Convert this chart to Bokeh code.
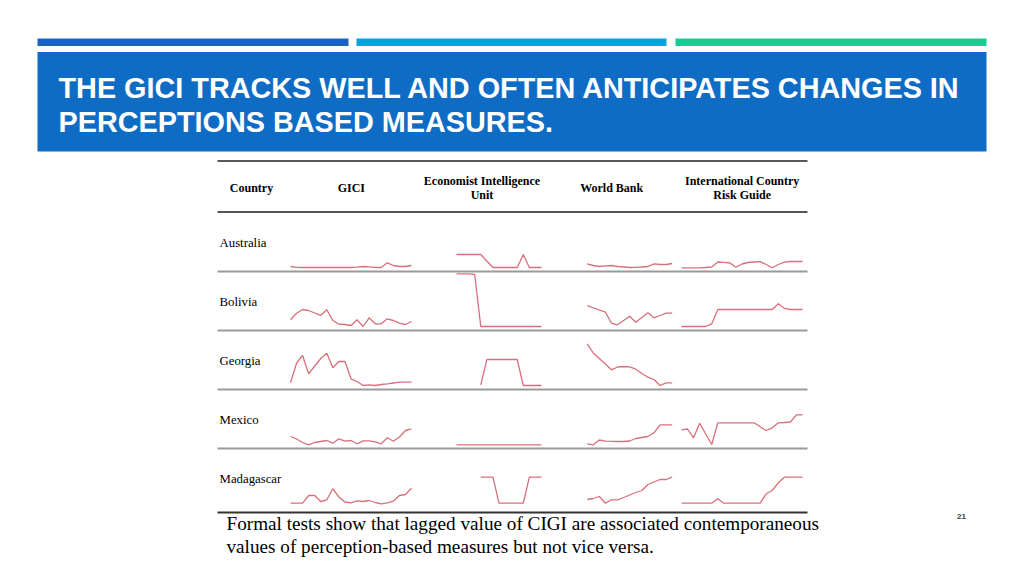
from bokeh.plotting import figure
from bokeh.models import Range1d
from bokeh.embed import file_html
from bokeh.resources import INLINE
from bokeh.core.properties import value
import numpy as np

# ---------------- data ----------------
title_lines = ["THE GICI TRACKS WELL AND OFTEN ANTICIPATES CHANGES IN",
               "PERCEPTIONS BASED MEASURES."]
header_cells = ["Country", "GICI", "Economist Intelligence\nUnit", "World Bank",
                "International Country\nRisk Guide"]
countries = ["Australia", "Bolivia", "Georgia", "Mexico", "Madagascar"]
footnote = ["Formal tests show that lagged value of CIGI are associated contemporaneous",
            "values of perception-based measures but not vice versa."]
page_number = "21"

# sparkline series (score units, one list per country; None = no data)
gici = [
    [5, 4.2, 4, 4, 4, 4, 4, 4, 4, 4, 4, 4.4, 5, 4.6, 4.2, 4, 8.7, 6, 5, 5, 6],
    [10.7, 17.3, 21, 20, 17.5, 15.2, 20.7, 10, 6.3, 6, 5, 10.7, 4, 12.7, 6.7, 6.7, 11.7, 10, 7.3, 6, 9],
    [6.7, 26.3, 34, 15.7, 23.5, 31, 36.3, 21.7, 28, 28, 10.7, 8, 4, 4.7, 4, 5, 5.7, 6.5, 7.3, 7.3, 7.3],
    [12, 9.5, 6, 3.7, 6, 7, 8, 5.3, 9.7, 7.3, 8, 4.7, 7.7, 7.7, 6.7, 4.7, 10.7, 7.3, 11.5, 18, 19.7],
    [9.3, 9.3, 9.3, 17, 17, 11, 12.7, 23.7, 15.5, 10.5, 9.7, 11.7, 11, 12, 10, 8.7, 9.7, 11.3, 17, 18, 24.3],
]
eiu = [
    [17, 17, 17, 17, 17, 10.5, 4, 4, 4, 4, 4, 17, 4, 4, 4],
    [56.7, 56.7, 56.7, 56, 4, 4, 4, 4, 4, 4, 4, 4, 4, 4, 4],
    [None, None, None, None, 4.7, 30, 30, 30, 30, 30, 30, 4, 4, 4, 4],
    [3.7, 3.7, 3.7, 3.7, 3.7, 3.7, 3.7, 3.7, 3.7, 3.7, 3.7, 3.7, 3.7, 3.7, 3.7],
    [None, None, None, None, 35.3, 35.3, 35.3, 9.3, 9.3, 9.3, 9.3, 9.3, 35.3, 35.3, 35.3],
]
world_bank = [
    [7.7, 6, 5, 5.7, 6, 5, 4.5, 4, 4.2, 4.5, 5, 7.7, 7, 7, 8],
    [25, 22.7, 20.5, 18.3, 7.3, 5.7, 10, 14.3, 8.3, 13, 17.7, 12.7, 15, 17.3, 17.3],
    [45.7, 36.5, 31, 25.5, 19.7, 22.5, 23, 22.7, 20.3, 16, 12.3, 10, 4, 6.7, 6.7],
    [4.7, 3.7, 8.5, 7.3, 7.2, 7, 7, 7.5, 10, 11, 12, 15.7, 23.7, 23.7, 23.7],
    [13, 14, 16, 9.3, 12.7, 12.7, 15, 17.5, 20, 22, 28, 30.5, 33, 33, 35.3],
]
icrg = [
    [3.7, 3.7, 3.7, 3.7, 4, 4.5, 9.5, 9.2, 8.5, 4.3, 7.5, 9, 9.5, 9.8, 7, 3.7, 7, 9.3, 10, 10, 10],
    [4, 4, 4, 4, 4, 6.7, 21, 21, 21, 21, 21, 21, 21, 21, 21, 21, 26.7, 22.2, 21, 21, 21],
    None,
    [18.7, 19.5, 10.7, 25.3, 14.5, 4, 25.7, 25.7, 25.7, 25.7, 25.7, 25.7, 25.7, 21.7, 18, 20.7, 25.7, 26, 26.5, 33.7, 33.7],
    [9.3, 9.3, 9.3, 9.3, 9.3, 9.3, 13.7, 9.3, 9.3, 9.3, 9.3, 9.3, 9.3, 9.3, 18.7, 22, 29.7, 35.3, 35.3, 35.3, 35.3],
]

# ---------------- layout (page pixels) ----------------
W, H = 1008, 560
OFF = 0  # figure frame sits at the page origin
row_rules = [271, 330, 389, 448, 512]
row_label_y = [242, 301.7, 360.7, 419.3, 478.3]
col_spans = [(290, 411), (456, 541), (586.7, 671.7), (681, 802)]
header_x = [251, 350.8, 481.5, 611.2, 741.7]
table_left, table_right = 217, 807
spark_color = "#d7707a"

p = figure(width=W, height=H, output_backend="svg", toolbar_location=None,
           x_range=Range1d(OFF, OFF + W), y_range=Range1d(OFF + H, OFF),
           min_border=0, outline_line_color=None, background_fill_color="white")
p.axis.visible = False
p.grid.visible = False

# top stripes
p.quad(left=[37, 356, 675], right=[348, 666, 986], top=[38, 38, 38], bottom=[45.5, 45.5, 45.5],
       fill_color=["#1a64c0", "#0aa0dc", "#14cd92"], line_color=None)
# banner
p.quad(left=[37], right=[986], top=[51.5], bottom=[151], fill_color="#0f6cc4", line_color=None)
p.text(x=[58, 58], y=[87.5, 121], text=title_lines, text_font=value("Liberation Sans"),
       text_font_style="bold", text_font_size="28.8px", text_color="white",
       text_baseline="alphabetic", text_align="left")

# table rules
p.segment(x0=[table_left], x1=[table_right], y0=[160.5], y1=[160.5], line_color="#222222", line_width=1.6)
p.segment(x0=[table_left], x1=[table_right], y0=[211.5], y1=[211.5], line_color="#555555", line_width=2)
p.segment(x0=[table_left] * 4, x1=[table_right] * 4, y0=row_rules[:4], y1=row_rules[:4],
          line_color="#9a9a9a", line_width=2)
p.segment(x0=[table_left], x1=[table_right], y0=[row_rules[4]], y1=[row_rules[4]],
          line_color="#333333", line_width=2)

# header texts
hx, hy, ht = [], [], []
for xc, cell in zip(header_x, header_cells):
    lines = cell.split("\n")
    if len(lines) == 1:
        hx.append(xc); hy.append(187); ht.append(lines[0])
    else:
        hx += [xc, xc]; hy += [180, 194.3]; ht += lines
p.text(x=hx, y=hy, text=ht, text_font=value("Liberation Serif"), text_font_style="bold",
       text_font_size="12px", text_color="black", text_align="center", text_baseline="middle")

# country labels
p.text(x=[219] * len(countries), y=row_label_y, text=countries, text_font=value("Liberation Serif"),
       text_font_size="12.8px", text_color="black", text_align="left", text_baseline="middle")

# sparklines through per-cell scales
for ci, (x0, x1) in enumerate(col_spans):
    n = len(gici[0]) if ci in (0, 3) else len(eiu[0])
    step = (x1 - x0) / (n - 1)
    p.extra_x_ranges["c%d" % ci] = Range1d((OFF - x0) / step, (OFF + W - x0) / step)
for ri, R in enumerate(row_rules):
    p.extra_y_ranges["r%d" % ri] = Range1d(R - (OFF + H), R - OFF)

for ci, series in enumerate([gici, eiu, world_bank, icrg]):
    for ri, vals in enumerate(series):
        if vals is None:
            continue
        arr = np.array([np.nan if v is None else v for v in vals], dtype=float)
        p.line(x=np.arange(len(arr)), y=arr, x_range_name="c%d" % ci, y_range_name="r%d" % ri,
               line_color=spark_color, line_width=1.3)

# footnote
p.text(x=[226, 226], y=[523, 546], text=footnote, text_font=value("Liberation Serif"),
       text_font_size="19.2px", text_color="black", text_align="left", text_baseline="middle")
# page number
p.text(x=[961], y=[516], text=[page_number], text_font=value("Liberation Sans"), text_font_style="bold",
       text_font_size="8px", text_color="#404040", text_align="center", text_baseline="middle")

open("out.html", "w").write(file_html(p, INLINE))
